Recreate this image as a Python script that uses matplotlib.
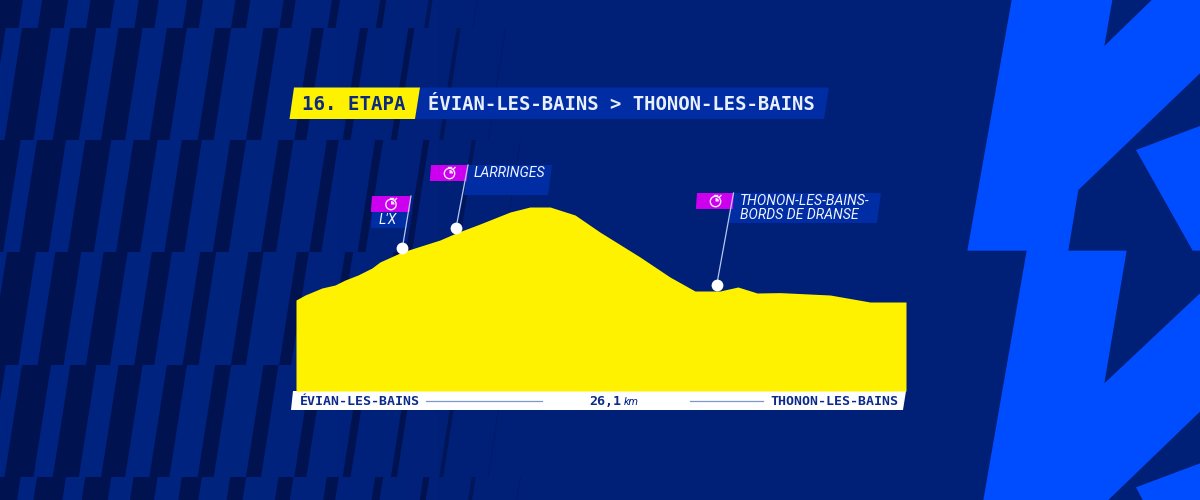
import numpy as np
import matplotlib
matplotlib.use("Agg")
import matplotlib.pyplot as plt
from matplotlib.patches import Polygon, Circle, Wedge
from matplotlib.colors import LinearSegmentedColormap

# ---- data ----
distance_km = [0, 0.39, 1.11, 1.67, 2.10, 2.65, 3.25, 3.59, 4.54, 6.16, 6.85, 7.87, 9.16,
               10.01, 10.87, 11.94, 13.0, 14.72, 16.0, 17.07, 18.14, 18.91, 19.73, 20.71,
               22.85, 24.56, 26.1]
elevation_m = [410, 435, 470, 485, 510, 535, 570, 600, 650, 710, 745, 790, 850,
               875, 875, 835, 750, 625, 525, 455, 455, 475, 445, 447,
               435, 400, 400]
point_km = [4.55, 6.85, 18.0]
point_elev = [670, 772, 485]
point_names = ["L'X", "LARRINGES", "THONON-LES-BAINS-\nBORDS DE DRANSE"]
stage = "16. ETAPA"
route = "ÉVIAN-LES-BAINS > THONON-LES-BAINS"
start_name = "ÉVIAN-LES-BAINS"
end_name = "THONON-LES-BAINS"
length_text = "26,1"
length_unit = "km"

# ---- style ----
BG = "#001f76"
DARK = "#001250"
BLUE = "#002da3"
BRIGHT = "#004dff"
YELLOW = "#fff200"
MAGENTA = "#cc00ee"
INK = "#0a2a8c"
MONO = "DejaVu Sans Mono"
ITAL = dict(family="Roboto", style="italic", weight="normal")

fig = plt.figure(figsize=(12, 5), dpi=100, facecolor=BG)
bg = fig.add_axes([0, 0, 1, 1], zorder=0)
bg.set_xlim(0, 1200)
bg.set_ylim(500, 0)
bg.axis("off")


def poly(pts, color, z=2, ax=bg):
    ax.add_patch(Polygon(pts, closed=True, facecolor=color, edgecolor="none", zorder=z))


# left gradient panel
grad = np.linspace(0, 1, 256).reshape(1, -1)
cmap = LinearSegmentedColormap.from_list("g", ["#002482", "#00237e", BG])
bg.imshow(grad, extent=(0, 540, 500, 0), cmap=cmap, aspect="auto", zorder=1)
bg.set_xlim(0, 1200)
bg.set_ylim(500, 0)

# dark slanted stripe rows
row_edges = [-84, 28, 140, 252, 365, 477, 590]
offsets = [7, 22, 37]
widths = [32, 29, 26, 24, 20, 16, 15, 12, 8, 6, 4, 1.0]
stripe_colors = [DARK] * 10 + ["#001658", "#001b6a"]
for r in range(6):
    y0, y1 = row_edges[r], row_edges[r + 1]
    dx = 17.5 * (y1 - y0) / 112
    for i, (w, c) in enumerate(zip(widths, stripe_colors)):
        x = offsets[r % 3] + 48.3 * (i - 1)
        poly([(x, y0), (x + w, y0), (x + w - dx, y1), (x - dx, y1)], c, 2)

# big logo on the right


def Z(pts):
    return [(950 + a / 3, b / 3) for a, b in pts]


poly(Z([(185, 0), (52, 752), (230, 752), (100, 1500), (475, 1500), (750, 1235), (750, 880),
        (463, 1150), (530, 752), (355, 752), (385, 570), (750, 220), (750, 0), (605, 0),
        (463, 138), (487, 0)]), BRIGHT)
poly(Z([(558, 450), (750, 378), (750, 752), (728, 752)]), BRIGHT)
poly(Z([(558, 1462), (750, 1390), (750, 1500), (578, 1500)]), BRIGHT)

# elevation profile
ax = fig.add_axes([296 / 1200, 1 - 391 / 500, 610 / 1200, (391 - 150) / 500], zorder=1)
ax.patch.set_alpha(0)
ax.set_xlim(0, 26.1)
ax.set_ylim(-45, 1160)
ax.axis("off")
ax.fill_between(distance_km, elevation_m, -45, color=YELLOW, lw=0, zorder=2)

# overlay in pixel coordinates
top = fig.add_axes([0, 0, 1, 1], zorder=2)
top.patch.set_alpha(0)
top.set_xlim(0, 1200)
top.set_ylim(500, 0)
top.axis("off")

# header
poly([(294, 87.5), (420, 87.5), (415, 119), (289.5, 119)], YELLOW, 3, top)
poly([(420, 87.5), (829, 87.5), (824, 119), (415, 119)], BLUE, 2.5, top)
top.text(302, 104, stage, family=MONO, weight="bold", fontsize=13.7, color="#0b2a80",
         va="center", ha="left", zorder=5)
top.text(428, 104, route, family=MONO, weight="bold", fontsize=13.58, color="#e8f0ff",
         va="center", ha="left", zorder=5)

# footer band
poly([(293, 391), (906, 391), (903, 410), (291, 410)], "white", 3, top)
top.plot([426, 542], [400.5, 400.5], color="#7d97cf", lw=0.9, zorder=4)
top.plot([690, 763], [400.5, 400.5], color="#7d97cf", lw=0.9, zorder=4)
top.text(300, 401.5, start_name, family=MONO, weight="bold", fontsize=9.5, color=INK,
         va="center", ha="left", zorder=5)
top.text(898, 401.5, end_name, family=MONO, weight="bold", fontsize=9.5, color=INK,
         va="center", ha="right", zorder=5)
top.text(589, 401.5, length_text, family=MONO, weight="bold", fontsize=9.5, color=INK,
         va="center", ha="left", zorder=5)
top.text(624, 402, length_unit, fontsize=8, color=INK, va="center", ha="left", zorder=5, **ITAL)

# checkpoint flags: flag corners, name box, text anchor
flags = [
    dict(fx0=372, fx1=411, y0=196, y1=212, bx=(372, 407, 407, 371), by=(212, 228), tx=379, ty=220.5,
         icon=(391, 204), stem=(411, 196)),
    dict(fx0=431, fx1=468, y0=165, y1=181, bx=(468, 552, 548, 464), by=(165, 195), tx=474, ty=173,
         icon=(449.5, 173), stem=(468, 165)),
    dict(fx0=697, fx1=734, y0=193, y1=209, bx=(733, 881, 877, 729), by=(193, 223), tx=740, ty=208,
         icon=(715.5, 201), stem=(733.5, 193)),
]
for name, km, el, f in zip(point_names, point_km, point_elev, flags):
    px, py = top.transData.inverted().transform(ax.transData.transform((km, el)))
    sx, sy = f["stem"]
    top.plot([sx, px], [sy, py], color="#b4c6f2", lw=0.9, zorder=6)
    b = f["bx"]
    (bt, bb) = f["by"]
    poly([(b[0], bt), (b[1], bt), (b[2], bb), (b[3], bb)], BLUE, 3, top)
    poly([(f["fx0"], f["y0"]), (f["fx1"], f["y0"]), (f["fx1"] - 1.2, f["y1"]), (f["fx0"] - 1.2, f["y1"])],
         MAGENTA, 4, top)
    ix, iy = f["icon"]
    top.add_patch(Circle((ix, iy + 0.5), 5.2, facecolor="none", edgecolor="#ffe6ff", lw=1, zorder=5))
    top.add_patch(Wedge((ix, iy + 0.5), 3.6, -90, 0, facecolor="#ffe6ff", edgecolor="none", zorder=5))
    top.plot([ix - 1.5, ix + 1.5], [iy - 6, iy - 6], color="#ffe6ff", lw=1, zorder=5)
    top.plot([ix + 4, ix + 5.5], [iy - 4, iy - 5.5], color="#ffe6ff", lw=1, zorder=5)
    top.text(f["tx"], f["ty"], name, fontsize=10.1, color="#eef3ff", va="center", ha="left",
             linespacing=1.05, zorder=7, **ITAL)

# points
ax.scatter(point_km, point_elev, s=72, color="white", linewidths=0, clip_on=False, zorder=8)
ax.set_zorder(3)

fig.savefig("out.png", dpi=100, facecolor=BG)
